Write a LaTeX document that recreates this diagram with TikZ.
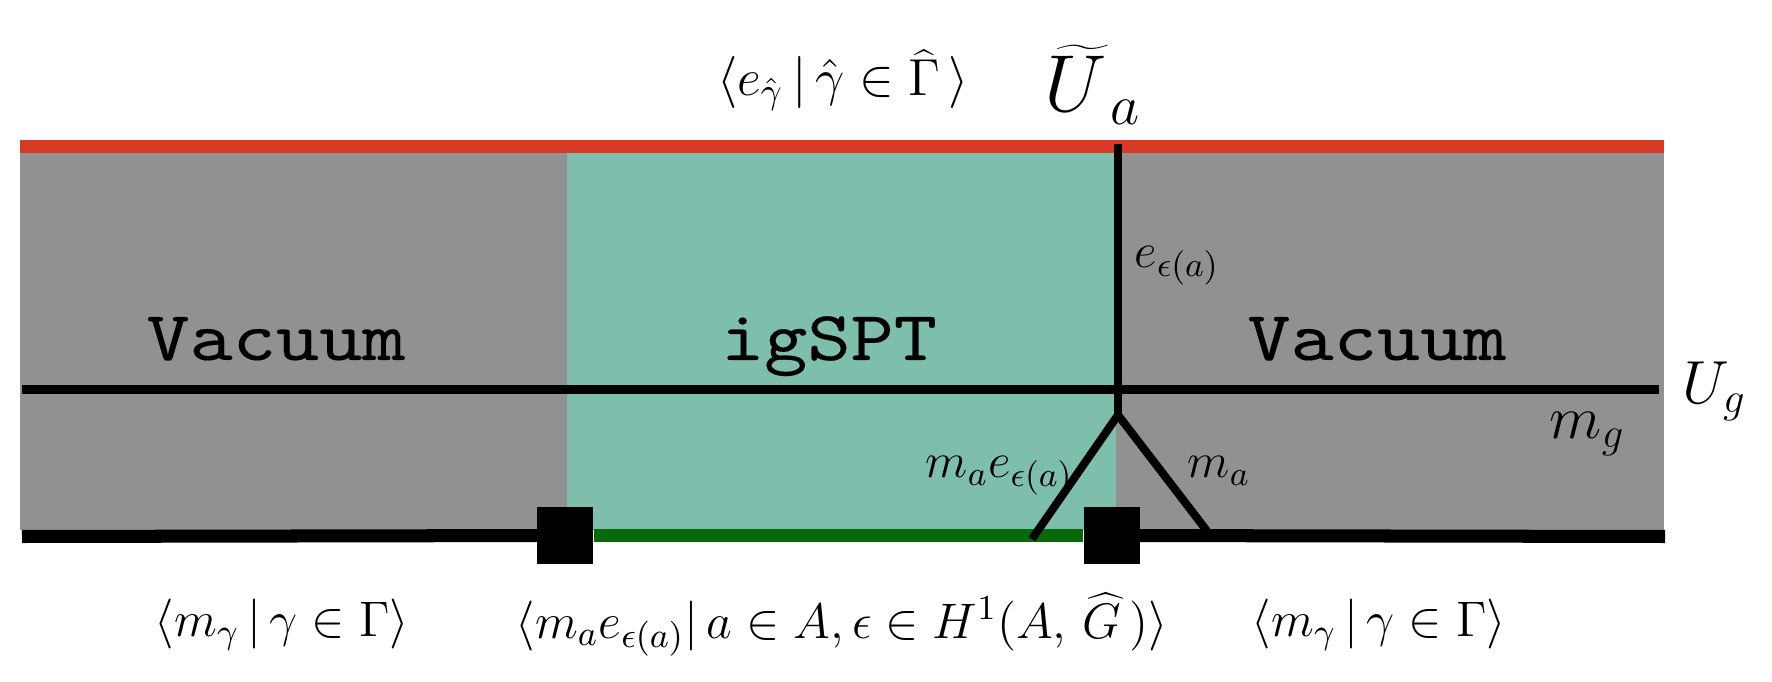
\RequirePackage{fix-cm}
\documentclass[tikz,border=0pt]{standalone}
\usepackage{fontspec}
\newfontfamily\vacfont{lmmono10-regular.otf}[FakeStretch=1.17,FakeBold=0.2]
\definecolor{redband}{RGB}{217,58,38}
\definecolor{grayreg}{RGB}{145,145,145}
\definecolor{tealreg}{RGB}{126,190,172}
\definecolor{greenline}{RGB}{8,105,10}
\tikzset{
  wline/.style={line width=2.3pt, black},
  bline/.style={line width=3.7pt},
  sq/.style={fill=black, minimum size=0.56cm, inner sep=0pt, draw=none},
  region/.style={font=\vacfont\fontsize{20}{24}\selectfont, inner sep=0pt},
  hugem/.style={font=\fontsize{23}{27}\selectfont, inner sep=0pt},
  bigm/.style={font=\fontsize{17.3}{21}\selectfont, inner sep=0pt},
  topm/.style={font=\fontsize{14.8}{18}\selectfont, inner sep=0pt},
  midm/.style={font=\fontsize{14.2}{17}\selectfont, inner sep=0pt},
  smallm/.style={font=\fontsize{14}{17}\selectfont, inner sep=0pt},
}
\begin{document}
\begin{tikzpicture}[x=0.01cm, y=-0.01cm]
\useasboundingbox (0,0) rectangle (1772,682);
% regions
\fill[redband] (20,140) rectangle (1664,153);
\fill[grayreg] (20,153) rectangle (1664,530);
\fill[tealreg] (567,153) rectangle (1116,530);
% coordinates
\coordinate (ut) at (1118,144);
\coordinate (j) at (1118,415);
\coordinate (ll) at (1032,539);
\coordinate (rl) at (1207,531);
\coordinate (gl) at (22,389.5);
\coordinate (gr) at (1659,389.5);
\coordinate (bl) at (22,536.5);
\coordinate (br) at (1665,536.5);
% lines
\draw[wline] (gl) -- (gr);
\draw[wline] (ut) -- (j);
\draw[wline] (j) -- (rl);
\node[sq] (s1) at (565,535.5) {};
\node[sq] (s2) at (1112,535.5) {};
\draw[bline, black] (bl) -- (s1.center);
\draw[bline, greenline] (s1.east) -- (s2.west);
\draw[bline, black] (s2.center) -- (br);
\draw[wline] (j) -- (ll);
\node[sq] at (s1) {};
\node[sq] at (s2) {};
% region labels
\node[region, anchor=base] (vac1) at (276,360) {Vacuum};
\node[region, anchor=base] (igspt) at (829,360) {igSPT};
\node[region, anchor=base] (vac2) at (1377,360) {Vacuum};
% math labels
\node[topm, anchor=base] (top) at (843,96) {$\langle e_{\hat{\gamma}}\,|\,\hat{\gamma}\in\widehat{\Gamma}\,\rangle$};
\node[hugem, anchor=base west] (ua) at (1044,112) {$\widetilde{U\,}_{\!a}$};
\node[bigm, anchor=base west] (ug) at (1682,403) {$U_g$};
\node[bigm, anchor=base west] (mg) at (1549,438) {$m_g$};
\node[smallm, anchor=base west] (eea) at (1134,268) {$e_{\epsilon(a)}$};
\node[smallm, anchor=base west] (maea) at (925,478) {$m_a e_{\epsilon(a)}$};
\node[smallm, anchor=base west] (ma) at (1187,478) {$m_a$};
\node[midm, anchor=base] (bl1) at (282,636) {$\langle m_\gamma\,|\,\gamma\in\Gamma\rangle$};
\node[midm, anchor=base] (bm) at (842,638) {$\langle m_a e_{\epsilon(a)}|\,a\in A,\epsilon\in H^1(A,\,\widehat{G}\,)\rangle$};
\node[midm, anchor=base] (br1) at (1379,636) {$\langle m_\gamma\,|\,\gamma\in\Gamma\rangle$};
\end{tikzpicture}
\end{document}
